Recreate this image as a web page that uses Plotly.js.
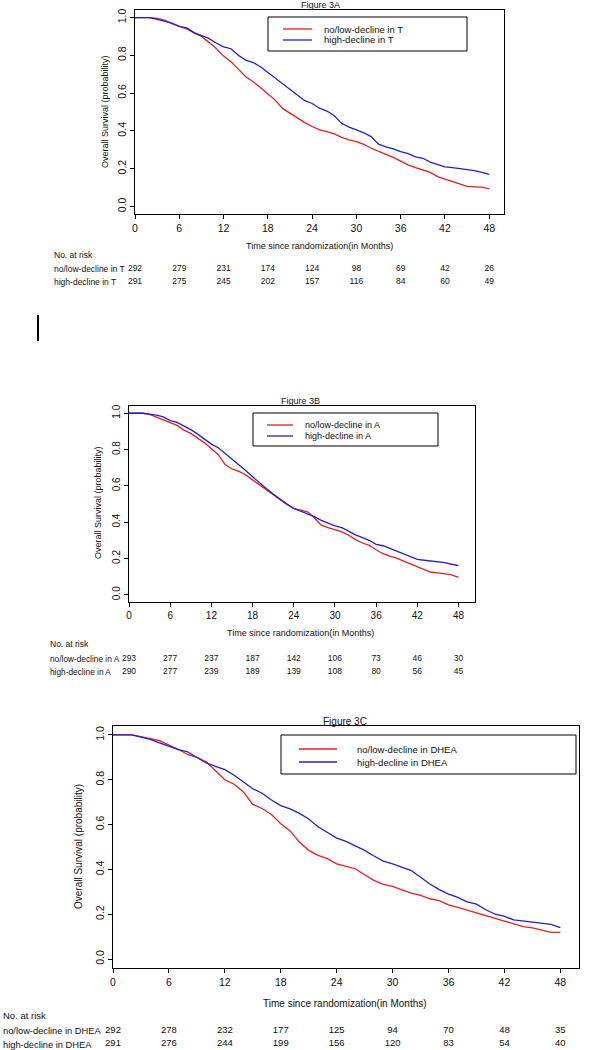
<!DOCTYPE html>
<html>
<head>
<meta charset="utf-8">
<script src="https://cdn.plot.ly/plotly-3.0.1.min.js"></script>
<style>html,body{margin:0;padding:0;background:#fff;}#chart{width:610px;height:1050px;}</style>
</head>
<body>
<div id="chart"></div>
<script>
// ---------- DATA ----------
const months = [0,1,2,3,4,5,6,7,8,9,10,11,12,13,14,15,16,17,18,19,20,21,22,23,24,25,26,27,28,29,30,31,32,33,34,35,36,37,38,39,40,41,42,43,44,45,46,47,48];
const xTicks = [0,6,12,18,24,30,36,42,48];
const yTicks = [0,0.2,0.4,0.6,0.8,1.0];
const yTickText = ['0.0','0.2','0.4','0.6','0.8','1.0'];

// Figure 3A (T)
const namesA = ['no/low-decline in T','high-decline in T'];
const survA_low = [1,1,1,0.995,0.986,0.968,0.954,0.94,0.919,0.9,0.87,0.836,0.796,0.766,0.727,0.687,0.66,0.63,0.595,0.563,0.519,0.493,0.47,0.444,0.423,0.405,0.396,0.384,0.366,0.352,0.343,0.329,0.308,0.29,0.276,0.26,0.241,0.22,0.206,0.194,0.18,0.158,0.144,0.132,0.12,0.106,0.104,0.102,0.093];
const survA_high = [1,1,1,0.99,0.98,0.97,0.953,0.945,0.92,0.905,0.89,0.865,0.845,0.835,0.8,0.775,0.762,0.74,0.71,0.68,0.65,0.62,0.59,0.56,0.545,0.52,0.505,0.48,0.44,0.42,0.405,0.39,0.37,0.33,0.315,0.305,0.29,0.28,0.262,0.255,0.235,0.222,0.21,0.205,0.2,0.196,0.19,0.18,0.17];
const riskA_low = [292,279,231,174,124,98,69,42,26];
const riskA_high = [291,275,245,202,157,116,84,60,49];

// Figure 3B (A)
const namesB = ['no/low-decline in A','high-decline in A'];
const survB_low = [1,1,1,0.994,0.98,0.963,0.948,0.933,0.907,0.889,0.865,0.837,0.804,0.772,0.717,0.693,0.68,0.661,0.633,0.606,0.578,0.55,0.526,0.498,0.476,0.467,0.457,0.424,0.383,0.37,0.359,0.346,0.328,0.304,0.285,0.272,0.248,0.226,0.213,0.202,0.185,0.17,0.157,0.139,0.124,0.12,0.115,0.109,0.096];
const survB_high = [1,1,1,0.995,0.99,0.98,0.96,0.95,0.93,0.91,0.885,0.855,0.83,0.81,0.78,0.745,0.715,0.685,0.65,0.615,0.585,0.555,0.525,0.5,0.475,0.46,0.445,0.43,0.41,0.395,0.38,0.37,0.35,0.33,0.315,0.3,0.278,0.27,0.255,0.24,0.225,0.21,0.195,0.19,0.187,0.183,0.177,0.168,0.16];
const riskB_low = [293,277,237,187,142,106,73,46,30];
const riskB_high = [290,277,239,189,139,108,80,56,45];

// Figure 3C (DHEA)
const namesC = ['no/low-decline in DHEA','high-decline in DHEA'];
const survC_low = [1,1,1,0.993,0.985,0.975,0.955,0.936,0.913,0.9,0.88,0.84,0.8,0.78,0.746,0.69,0.672,0.645,0.604,0.572,0.522,0.485,0.463,0.448,0.425,0.413,0.403,0.376,0.351,0.333,0.324,0.309,0.294,0.284,0.269,0.261,0.242,0.231,0.219,0.209,0.194,0.182,0.169,0.157,0.145,0.139,0.13,0.119,0.119];
const survC_high = [1,1,1,0.99,0.98,0.965,0.95,0.935,0.925,0.9,0.875,0.86,0.845,0.82,0.79,0.76,0.74,0.71,0.685,0.67,0.65,0.625,0.59,0.565,0.54,0.525,0.505,0.485,0.46,0.437,0.425,0.41,0.395,0.365,0.335,0.31,0.29,0.275,0.255,0.245,0.22,0.2,0.19,0.175,0.17,0.165,0.16,0.155,0.14];
const riskC_low = [292,278,232,177,125,94,70,48,35];
const riskC_high = [291,276,244,199,156,120,83,54,40];

const panelTitles = ['Figure 3A','Figure 3B','Figure 3C'];
const yTitle = 'Overall Survival (probability)';
const xTitle = 'Time since randomization(in Months)';
const riskHeader = 'No. at risk';

// ---------- STYLE / LAYOUT ----------
const W = 610, H = 1050;
const RED = '#e02020', BLUE = '#2020d0';
const FONT = "'Liberation Sans', Arial, sans-serif";
const TXT = '#111';
const px = v => v / W;
const py = v => 1 - v / H;

// panel geometry in pixels
const panels = [
  {box:[135,504,10,214], xr:[0,50], fs:10.5, tfs:9, legend:[268,467,17,51], legx:[283,312], legText:322, legRows:[29,40],
   title:[320,5], yt:[105,112], xt:[319,246], hdr:[52,255], rows:[269,282], names:namesA, low:survA_low, high:survA_high, rl:riskA_low, rh:riskA_high, lfs:9.5, rfs:8.5, lab:8.5},
  {box:[129,475,406,602], xr:[0,50.4], fs:10, tfs:9, legend:[253,438,413,446], legx:[267,293], legText:303, legRows:[425,436],
   title:[300,401], yt:[98,503], xt:[300,633], hdr:[48,644], rows:[659,672], names:namesB, low:survB_low, high:survB_high, rl:riskB_low, rh:riskB_high, lfs:9, rfs:8.5, lab:8.3},
  {box:[113,579,726,968], xr:[0,50], fs:10.5, tfs:10, legend:[281,576,735,774], legx:[299,337], legText:355, legRows:[749,762],
   title:[345,721], yt:[78,847], xt:[345,1003], hdr:[1,1015], rows:[1031,1045], names:namesC, low:survC_low, high:survC_high, rl:riskC_low, rh:riskC_high, lfs:9.5, rfs:9.5, lab:9.3}
];

const data = [];
const layout = {
  width: W, height: H,
  margin: {l:0, r:0, t:0, b:0},
  paper_bgcolor: '#fff', plot_bgcolor: '#fff',
  showlegend: false,
  font: {family: FONT, color: TXT},
  annotations: [], shapes: []
};

panels.forEach((p, i) => {
  const n = i + 1;
  const xs = n === 1 ? '' : String(n);
  const ys = n === 1 ? '' : String(n);
  const xKey = 'xaxis' + xs, yKey = 'yaxis' + ys;
  const xRef = 'x' + xs, yRef = 'y' + ys;
  const [x0, x1, y0, y1] = p.box;
  layout[xKey] = {
    domain: [px(x0), px(x1)], range: p.xr, anchor: yRef,
    showline: true, mirror: true, linecolor: '#000', linewidth: 1,
    ticks: 'outside', ticklen: 4, tickcolor: '#000', tickwidth: 1,
    tickmode: 'array', tickvals: xTicks, showgrid: false, zeroline: false,
    tickfont: {family: FONT, size: p.fs, color: TXT}, fixedrange: true
  };
  layout[yKey] = {
    domain: [py(y1), py(y0)], range: [-0.04, 1.04], anchor: xRef,
    showline: true, mirror: true, linecolor: '#000', linewidth: 1,
    ticks: 'outside', ticklen: 4, tickcolor: '#000', tickwidth: 1,
    tickmode: 'array', tickvals: yTicks, ticktext: yTickText, tickangle: -90,
    showgrid: false, zeroline: false,
    tickfont: {family: FONT, size: p.fs, color: TXT}, fixedrange: true
  };
  data.push({x: months, y: p.low, xaxis: xRef, yaxis: yRef, type: 'scatter', mode: 'lines',
             name: p.names[0], line: {color: RED, width: 1.3}, hoverinfo: 'skip'});
  data.push({x: months, y: p.high, xaxis: xRef, yaxis: yRef, type: 'scatter', mode: 'lines',
             name: p.names[1], line: {color: BLUE, width: 1.3}, hoverinfo: 'skip'});

  // risk table: hidden category y axis sharing the panel's x axis
  const rKey = 'yaxis' + (n + 3), rRef = 'y' + (n + 3);
  const [r0, r1] = p.rows, step = r1 - r0;
  layout[rKey] = {
    domain: [py(r1 + step / 2), py(r0 - step / 2)], type: 'category',
    categoryarray: p.names, range: [1.5, -0.5], anchor: 'free', position: 0,
    visible: false, fixedrange: true
  };
  data.push({x: xTicks, y: xTicks.map(() => p.names[0]), text: p.rl.map(String), xaxis: xRef, yaxis: rRef,
             type: 'scatter', mode: 'text', textposition: 'middle center',
             textfont: {family: FONT, size: p.rfs, color: TXT}, hoverinfo: 'skip', cliponaxis: false});
  data.push({x: xTicks, y: xTicks.map(() => p.names[1]), text: p.rh.map(String), xaxis: xRef, yaxis: rRef,
             type: 'scatter', mode: 'text', textposition: 'middle center',
             textfont: {family: FONT, size: p.rfs, color: TXT}, hoverinfo: 'skip', cliponaxis: false});

  const ann = (x, y, text, size, opts) => Object.assign({
    xref: 'paper', yref: 'paper', x: px(x), y: py(y), text, showarrow: false,
    xanchor: 'center', yanchor: 'middle', font: {family: FONT, size, color: TXT}
  }, opts || {});
  layout.annotations.push(ann(p.title[0], p.title[1], panelTitles[i], p.tfs));
  layout.annotations.push(ann(p.yt[0], p.yt[1], yTitle, p.tfs, {textangle: -90}));
  layout.annotations.push(ann(p.xt[0], p.xt[1], xTitle, p.tfs));
  layout.annotations.push(ann(p.hdr[0], p.hdr[1], riskHeader, p.rfs, {xanchor: 'left'}));
  layout.annotations.push(ann(p.hdr[0], r0, p.names[0], p.lab, {xanchor: 'left'}));
  layout.annotations.push(ann(p.hdr[0], r1, p.names[1], p.lab, {xanchor: 'left'}));

  // legend box
  const [lx0, lx1, ly0, ly1] = p.legend;
  layout.shapes.push({type: 'rect', xref: 'paper', yref: 'paper', x0: px(lx0), x1: px(lx1), y0: py(ly1), y1: py(ly0),
                      line: {color: '#000', width: 1}, fillcolor: 'rgba(0,0,0,0)'});
  [RED, BLUE].forEach((c, k) => {
    layout.shapes.push({type: 'line', xref: 'paper', yref: 'paper', x0: px(p.legx[0]), x1: px(p.legx[1]),
                        y0: py(p.legRows[k]), y1: py(p.legRows[k]), line: {color: c, width: 1.3}});
    layout.annotations.push(ann(p.legText, p.legRows[k], p.names[k], p.lfs, {xanchor: 'left'}));
  });
});

// stray vertical bar between panels A and B
layout.shapes.push({type: 'line', xref: 'paper', yref: 'paper', x0: px(38), x1: px(38), y0: py(341), y1: py(315),
                    line: {color: '#000', width: 2}});

Plotly.newPlot('chart', data, layout, {staticPlot: true, displayModeBar: false});
</script>
</body>
</html>
